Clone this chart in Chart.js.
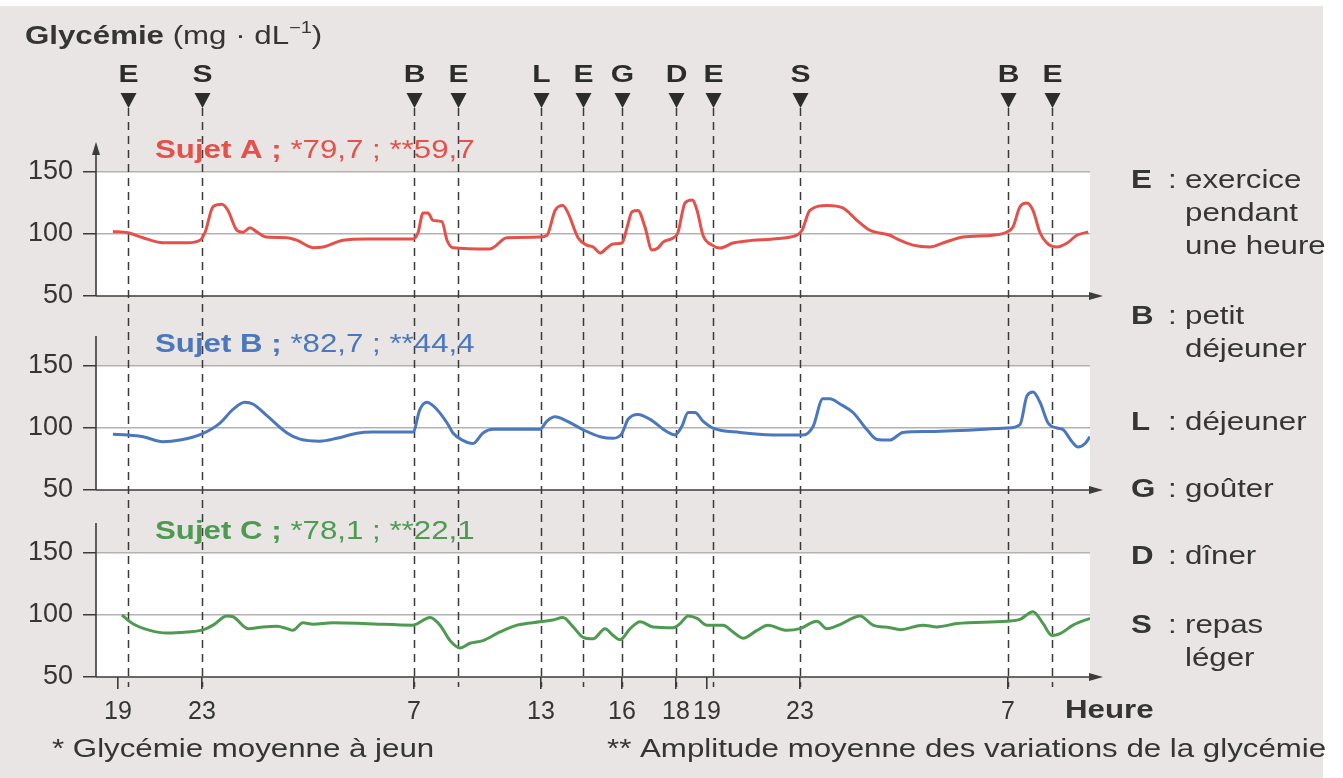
<!DOCTYPE html>
<html lang="fr">
<head>
<meta charset="utf-8">
<title>Glycémie</title>
<script src="https://cdn.jsdelivr.net/npm/chart.js@4/dist/chart.umd.min.js"></script>
<style>
  html, body { margin: 0; padding: 0; background: #fff; }
  #wrap { width: 1343px; height: 778px; }
</style>
</head>
<body>
<div id="wrap"><canvas id="glyChart" width="1343" height="778"></canvas></div>
<script>
// Hours are counted from 19 h on the first evening (0 = 19 h, 12 = 7 h, 36 = 7 h next day)
const tickHours = [0, 4, 12, 18, 21, 23, 24, 28, 36];
const tickLabels = ['19', '23', '7', '13', '16', '18', '19', '23', '7'];

// Events drawn as arrows at the top
const eventHours = [0.5, 4, 12, 14.1, 18, 19.55, 21, 23, 24.25, 28, 36, 37.7];
const eventLetters = ['E', 'S', 'B', 'E', 'L', 'E', 'G', 'D', 'E', 'S', 'B', 'E'];

// Subjects
const subjects = ['Sujet A', 'Sujet B', 'Sujet C'];
const fastingMeans = ['79,7', '82,7', '78,1'];
const amplitudes = ['59,7', '44,4', '22,1'];

// Sujet A glycaemia (mg/dL)
const tA = [-0.23, 0.48, 1.19, 2.14, 3.29, 3.9, 4.11, 4.42, 4.75, 4.98, 5.32, 5.55, 5.81, 6.08, 6.45, 7.21, 7.58, 8.19, 8.57, 9.32,
  10.23, 11.96, 12.19, 12.43, 12.66, 12.9, 13.32, 13.56, 13.84, 15.59, 16.39, 17.95, 18.22, 18.52, 18.81, 19.0, 19.37, 19.7, 19.93,
  20.19, 20.44, 20.67, 21.0, 21.19, 21.37, 21.59, 21.85, 22.11, 22.33, 22.52, 22.89, 23.06, 23.29, 23.52, 23.68, 23.87, 24.22,
  24.56, 25.12, 25.72, 26.84, 27.87, 28.08, 28.38, 29.04, 29.65, 30.19, 30.69, 31.46, 31.73, 32.35, 33.0, 33.5, 34.27, 35.42,
  35.96, 36.19, 36.46, 36.73, 36.96, 37.23, 37.5, 37.88, 38.27, 38.65, 39.08];
const gA = [102, 101, 97, 93, 93, 95, 101, 122, 124, 119, 103, 101.5, 105, 101.5, 97.5, 97, 95, 89, 89.5, 95,
  96, 96, 101, 117, 117, 111, 110, 95, 89, 88, 97, 97.5, 99, 119, 123, 117, 97, 91, 89.5,
  84.7, 88.7, 92, 92.7, 105.6, 118, 119, 105.6, 87, 88.7, 93.5, 96.8, 101, 125, 127.4, 119, 99, 91,
  88.7, 92.7, 94.4, 96, 99, 103, 119, 123, 121, 111, 103, 99, 96, 91, 89.5, 92.7, 97.6, 99,
  101.6, 105.6, 122, 125, 119, 101, 92.7, 89.5, 92.7, 99, 101.6];

// Sujet B
const tB = [-0.23, 0.48, 1.19, 2.14, 2.95, 4.0, 4.68, 5.17, 5.62, 5.92, 6.45, 7.21, 7.7, 8.45, 9.09, 9.85, 10.45, 11.96,
  12.28, 12.61, 12.9, 13.23, 13.61, 13.84, 14.31, 14.79, 15.26, 15.73, 17.95, 18.22, 18.52, 18.96, 19.56, 20.19, 20.67,
  21.0, 21.22, 21.59, 22.04, 22.67, 22.96, 23.19, 23.39, 23.61, 23.87, 24.26, 25.42, 26.84, 28.12, 28.5, 28.88, 29.15,
  29.54, 30.04, 30.58, 30.96, 31.46, 31.96, 33.0, 35.96, 36.46, 36.73, 36.96, 37.23, 37.54, 37.88, 38.12, 38.46, 38.69,
  38.96, 39.15];
const gB = [95, 94.4, 93, 89, 90.3, 95.3, 104, 115, 120.8, 119.4, 110, 96, 91, 89.4, 91.7, 95.8, 96.7, 96.7,
  115, 120.8, 118, 112, 102.8, 96, 90, 87.5, 96, 99, 99, 105.6, 109, 105.6, 98.6, 93, 91.7,
  95.8, 107, 111, 107, 97, 94.4, 101.4, 112.5, 112.5, 105.6, 100, 96.4, 94.4, 94.4, 101, 123.6, 123.6,
  119.4, 112.5, 98.6, 90.8, 90.3, 96.4, 97.2, 100, 102.8, 126, 129, 120.8, 104, 100, 98.6, 89, 84.7,
  87.5, 93];

// Sujet C
const tC = [0.19, 0.71, 1.52, 2.33, 3.29, 4.04, 4.42, 4.94, 5.17, 5.74, 6.3, 6.83, 7.21, 7.43, 7.81, 8.19, 8.94, 10.23,
  11.96, 12.76, 13.23, 13.7, 14.17, 14.65, 15.26, 16.06, 16.87, 17.95, 18.44, 18.81, 19.19, 19.56, 19.93, 20.37, 20.67,
  20.93, 21.3, 21.67, 22.15, 22.89, 23.13, 23.39, 23.68, 24.0, 24.69, 25.12, 25.55, 26.15, 26.62, 27.44, 28.0, 28.65,
  29.04, 29.54, 30.31, 30.81, 31.46, 31.85, 32.73, 33.27, 34.04, 35.96, 36.46, 36.96, 37.35, 37.69, 38.0, 38.5, 39.15];
const gC = [100, 93, 87.6, 85.4, 86.3, 88, 91.8, 99.2, 98.6, 89, 90.4, 91, 89, 87.6, 93.7, 92.6, 93.7, 93,
  91.8, 98, 91.8, 79.4, 73.4, 77.2, 79.4, 86.3, 91.8, 94.5, 95.9, 98, 90.4, 82, 80.8, 89, 83.5,
  80, 89, 94.5, 90.4, 89.8, 93, 99.2, 97.2, 91.8, 91.8, 86.3, 81.3, 87.6, 91.8, 87.6, 89, 95,
  89, 92.3, 99.2, 91.8, 89.8, 88.2, 91.8, 90.4, 93.1, 95, 96.4, 102.7, 93, 83.5, 84.9, 91.8, 97.3];

// Legend on the right
const legendKeys = ['E', 'B', 'L', 'G', 'D', 'S'];
const legendTexts = [['exercice', 'pendant', 'une heure'], ['petit', 'déjeuner'], ['déjeuner'], ['goûter'], ['dîner'], ['repas', 'léger']];

const lineColors = ['#e4514a', '#4b77bd', '#4d9a50'];
const panelIds = ['yA', 'yB', 'yC'];
const FONT = '"Liberation Sans", Arial, Helvetica, sans-serif';
const SX = 1.25; // the scanned figure has wide lettering
const INK = '#353535';

// x axis of the figure is not drawn to a constant hour scale: piecewise linear mapping
class HourScale extends Chart.LinearScale {
  static id = 'hourScale';
  static defaults = Chart.LinearScale.defaults;

  getPixelForValue(value) {
    const { hours, at } = this.options.knots;
    let f;
    if (value <= hours[0]) f = at[0];
    else if (value >= hours[hours.length - 1]) f = at[at.length - 1];
    else {
      let i = 0;
      while (value > hours[i + 1]) i++;
      f = at[i] + (value - hours[i]) / (hours[i + 1] - hours[i]) * (at[i + 1] - at[i]);
    }
    return this.getPixelForDecimal(f);
  }

  getValueForPixel(pixel) {
    const { hours, at } = this.options.knots;
    const f = this.getDecimalForPixel(pixel);
    let i = 0;
    while (i < at.length - 2 && f > at[i + 1]) i++;
    return hours[i] + (f - at[i]) / (at[i + 1] - at[i]) * (hours[i + 1] - hours[i]);
  }
}
Chart.register(HourScale);

function toPoints(ts, gs) {
  return ts.map((t, i) => ({ x: t, y: gs[i] }));
}

// Draw text with horizontal stretch; parts = [text, weight, size, color, dy]
function drawParts(ctx, parts, x, y) {
  let cx = x;
  parts.forEach(p => {
    ctx.save();
    ctx.font = `${p[1]} ${p[2]}px ${FONT}`;
    ctx.fillStyle = p[3];
    ctx.textBaseline = 'middle';
    ctx.textAlign = 'left';
    const w = ctx.measureText(p[0]).width * SX;
    ctx.translate(cx, y + (p[4] || 0));
    ctx.scale(SX, 1);
    ctx.fillText(p[0], 0, 0);
    ctx.restore();
    cx += w;
  });
}

function centerText(ctx, text, x, y, font, color) {
  ctx.save();
  ctx.font = font;
  ctx.fillStyle = color;
  ctx.textBaseline = 'middle';
  ctx.textAlign = 'center';
  ctx.translate(x, y);
  ctx.scale(SX, 1);
  ctx.fillText(text, 0, 0);
  ctx.restore();
}

const decor = {
  id: 'decor',
  beforeDraw(chart) {
    const { ctx } = chart;
    const x = chart.scales.x;
    ctx.save();
    ctx.fillStyle = '#ffffff';
    ctx.fillRect(0, 0, chart.width, chart.height);
    ctx.fillStyle = '#e8e5e4';
    ctx.fillRect(0, 6, 1323, chart.height - 6);
    ctx.fillStyle = '#ffffff';
    panelIds.forEach(id => {
      const y = chart.scales[id];
      const top = y.getPixelForValue(150);
      const bot = y.getPixelForValue(50);
      ctx.fillRect(x.left, top, x.right - x.left, bot - top);
    });
    ctx.restore();
  },
  beforeDatasetsDraw(chart) {
    const { ctx, chartArea } = chart;
    const x = chart.scales.x;
    ctx.save();
    // dashed event lines
    ctx.strokeStyle = '#3a3a3a';
    ctx.lineWidth = 1.5;
    ctx.setLineDash([8, 6]);
    eventHours.forEach(h => {
      const px = Math.round(x.getPixelForValue(h)) + 0.5;
      ctx.beginPath();
      ctx.moveTo(px, chartArea.top - 32);
      ctx.lineTo(px, x.top + 10);
      ctx.stroke();
    });
    ctx.setLineDash([]);
    // axes of each panel
    ctx.strokeStyle = '#3c3c3c';
    ctx.fillStyle = '#3c3c3c';
    ctx.lineWidth = 1.6;
    panelIds.forEach((id, i) => {
      const y = chart.scales[id];
      const y50 = y.getPixelForValue(50);
      const y150 = y.getPixelForValue(150);
      ctx.beginPath();
      ctx.moveTo(x.left, y50);
      ctx.lineTo(x.right + 4, y50);
      ctx.moveTo(x.left, y50);
      ctx.lineTo(x.left, y150 - (i === 0 ? 20 : 30));
      ctx.stroke();
      ctx.beginPath();
      ctx.moveTo(x.right + 13, y50);
      ctx.lineTo(x.right - 1, y50 - 4);
      ctx.lineTo(x.right - 1, y50 + 4);
      ctx.closePath();
      ctx.fill();
      if (i === 0) {
        ctx.beginPath();
        ctx.moveTo(x.left, y150 - 30);
        ctx.lineTo(x.left - 4, y150 - 17);
        ctx.lineTo(x.left + 4, y150 - 17);
        ctx.closePath();
        ctx.fill();
      }
    });
    ctx.restore();
  },
  afterDraw(chart) {
    const { ctx, chartArea } = chart;
    const x = chart.scales.x;
    ctx.save();

    // title
    drawParts(ctx, [
      ['Glycémie', 'bold', 25, INK],
      [' (mg · dL', 'normal', 25, INK],
      ['−1', 'normal', 16, INK, -8],
      [')', 'normal', 25, INK]
    ], 25, 37);

    // event letters and triangles
    eventHours.forEach((h, i) => {
      const px = Math.round(x.getPixelForValue(h)) + 0.5;
      centerText(ctx, eventLetters[i], px, chartArea.top - 65, `bold 24px ${FONT}`, '#2c2c2c');
      ctx.fillStyle = '#2c2c2c';
      ctx.beginPath();
      ctx.moveTo(px - 8, chartArea.top - 47);
      ctx.lineTo(px + 8, chartArea.top - 47);
      ctx.lineTo(px, chartArea.top - 32);
      ctx.closePath();
      ctx.fill();
    });

    // subject titles
    panelIds.forEach((id, i) => {
      const y = chart.scales[id].getPixelForValue(150) - 21;
      drawParts(ctx, [
        [subjects[i] + ' ; ', 'bold', 25, lineColors[i]],
        ['*' + fastingMeans[i] + ' ; **' + amplitudes[i], 'normal', 25, lineColors[i]]
      ], 155, y);
    });

    // legend
    const firstLine = [181, 317, 423, 490, 557, 626];
    legendKeys.forEach((k, i) => {
      drawParts(ctx, [[k, 'bold', 25, INK]], 1131, firstLine[i]);
      drawParts(ctx, [[':', 'normal', 25, INK]], 1168, firstLine[i]);
      legendTexts[i].forEach((t, j) => {
        drawParts(ctx, [[t, 'normal', 25, INK]], 1185, firstLine[i] + j * 33);
      });
    });

    // axis name and footnotes
    drawParts(ctx, [['Heure', 'bold', 25, INK]], 1065, 711);
    drawParts(ctx, [['* Glycémie moyenne à jeun', 'normal', 25, INK]], 52, 750);
    drawParts(ctx, [['** Amplitude moyenne des variations de la glycémie', 'normal', 25, INK]], 607, 750);
    ctx.restore();
  }
};

// panel y axes: 50 to 150 drawn, extra headroom above holds the subject title
function panelScale(max, stackWeight, weight) {
  return {
    type: 'linear',
    position: 'left',
    stack: 'panels',
    stackWeight: stackWeight,
    weight: weight,
    min: 50,
    max: max,
    afterBuildTicks: s => { s.ticks = [50, 75, 100, 125, 150].map(v => ({ value: v })); },
    afterFit: s => { s.width = 96; },
    border: { display: false },
    grid: {
      color: c => (c.tick && (c.tick.value === 100 || c.tick.value === 150)) ? '#b4b1b0' : 'rgba(0,0,0,0)',
      lineWidth: 1.5,
      tickColor: '#3c3c3c',
      tickLength: 13
    },
    ticks: {
      padding: 10,
      color: INK,
      font: { family: FONT, size: 27 },
      callback: v => (v % 50 === 0 ? String(v) : '')
    }
  };
}

const datasets = [[tA, gA], [tB, gB], [tC, gC]].map((d, i) => ({
  label: subjects[i],
  data: toPoints(d[0], d[1]),
  yAxisID: panelIds[i],
  borderColor: lineColors[i],
  borderWidth: 3,
  pointRadius: 0,
  cubicInterpolationMode: 'monotone',
  fill: false
}));

new Chart(document.getElementById('glyChart'), {
  type: 'line',
  data: { datasets: datasets },
  plugins: [decor],
  options: {
    responsive: false,
    animation: false,
    devicePixelRatio: 1,
    layout: { padding: { left: 0, right: 253, top: 140, bottom: 0 } },
    plugins: { legend: { display: false }, tooltip: { enabled: false } },
    scales: {
      x: {
        type: 'hourScale',
        position: 'bottom',
        min: -1,
        max: 39.15,
        knots: {
          hours: [-1, 0, 4, 12, 18, 21, 23, 24, 28, 36, 39.15],
          at: [0, 0.0221, 0.1066, 0.3199, 0.4477, 0.5292, 0.5835, 0.6147, 0.7082, 0.9175, 1]
        },
        afterBuildTicks: s => { s.ticks = tickHours.map(v => ({ value: v })); },
        afterFit: s => { s.height = 101; },
        border: { display: false },
        grid: { drawOnChartArea: false, tickColor: '#3c3c3c', tickLength: 12, lineWidth: 1.6 },
        ticks: {
          autoSkip: false,
          maxRotation: 0,
          minRotation: 0,
          padding: 8,
          color: INK,
          font: { family: FONT, size: 25 },
          callback: (v, i) => tickLabels[i]
        }
      },
      yA: panelScale(175.8, 156, 3),
      yB: panelScale(206.5, 194, 2),
      yC: panelScale(200.8, 187, 1)
    }
  }
});
</script>
</body>
</html>
